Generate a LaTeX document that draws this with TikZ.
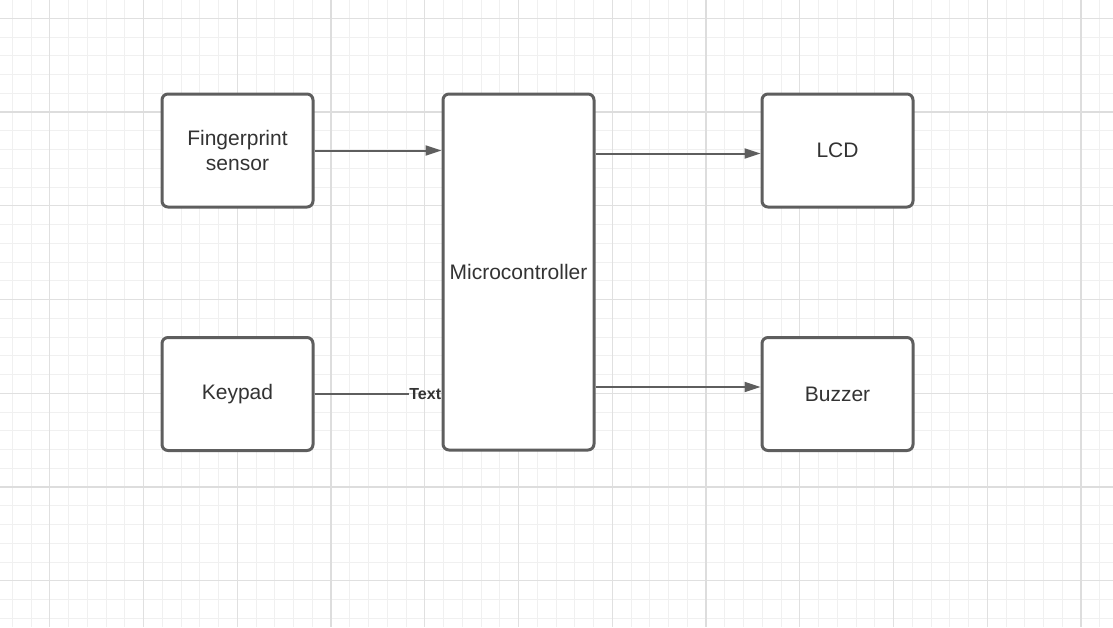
\documentclass[tikz,border=0pt]{standalone}
\usepackage{fontspec}
\setmainfont{Liberation Sans}
\usepackage{xcolor}
\usetikzlibrary{arrows.meta}
\definecolor{boxgray}{HTML}{5E5E5E}
\definecolor{txtgray}{HTML}{333333}

\begin{document}
\begin{tikzpicture}[x=0.5pt,y=-0.5pt,
  minor/.style={draw=gray!12,line width=0.5pt},
  medium/.style={draw=gray!24,line width=0.5pt},
  major/.style={draw=gray!27,line width=1pt},
  block/.style={draw=boxgray,line width=1.5pt,rounded corners=3pt,fill=white,
    minimum width=75.5pt,inner sep=2pt,text=txtgray,align=center,
    font=\fontsize{10.5}{12.5}\selectfont},
  small/.style={block,minimum height=56.5pt},
  link/.style={draw=boxgray,line width=1pt},
  arrow/.style={link,-{Triangle[length=8pt,width=5pt]}}]
\useasboundingbox (0,0) rectangle (1113,627);
\fill[white] (0,0) rectangle (1113,627);
% grid
\foreach \i in {0,...,58} \draw[minor] ({12.25+18.75*\i},0) -- ++(0,627);
\foreach \j in {0,...,32} \draw[minor] (0,{18.25+18.75*\j}) -- ++(1113,0);
\foreach \i in {2,7,...,57} \draw[medium] ({12.25+18.75*\i},0) -- ++(0,627);
\foreach \j in {0,5,...,30} \draw[medium] (0,{18.25+18.75*\j}) -- ++(1113,0);
\foreach \i in {17,37,57} \draw[major] ({12.25+18.75*\i},0) -- ++(0,627);
\foreach \j in {5,25} \draw[major] (0,{18.25+18.75*\j}) -- ++(1113,0);
% blocks
\node (finger) at (237.5,150.5) [small] {Fingerprint\\sensor};
\node (keypad) at (237.5,394) [small] {Keypad};
\node (micro) at (518.5,272) [block,minimum height=178pt] {Microcontroller};
\node (lcd) at (837.5,150.5) [small] {LCD};
\node (buzzer) at (837.5,394) [small] {Buzzer};
\node (txt) at (micro.west |- keypad) [anchor=east,inner sep=0pt,text=txtgray,
  font=\bfseries\fontsize{8}{9.6}\selectfont] {Text};
% connectors
\draw[arrow] (finger) -- (finger -| micro.west);
\draw[link]  (keypad) -- (txt);
\draw[arrow] ([yshift=-1.5pt]micro.east |- lcd.west) -- ([yshift=-1.5pt]lcd.west);
\draw[arrow] ([yshift=3.5pt]micro.east |- buzzer.west) -- ([yshift=3.5pt]buzzer.west);
\end{tikzpicture}
\end{document}
